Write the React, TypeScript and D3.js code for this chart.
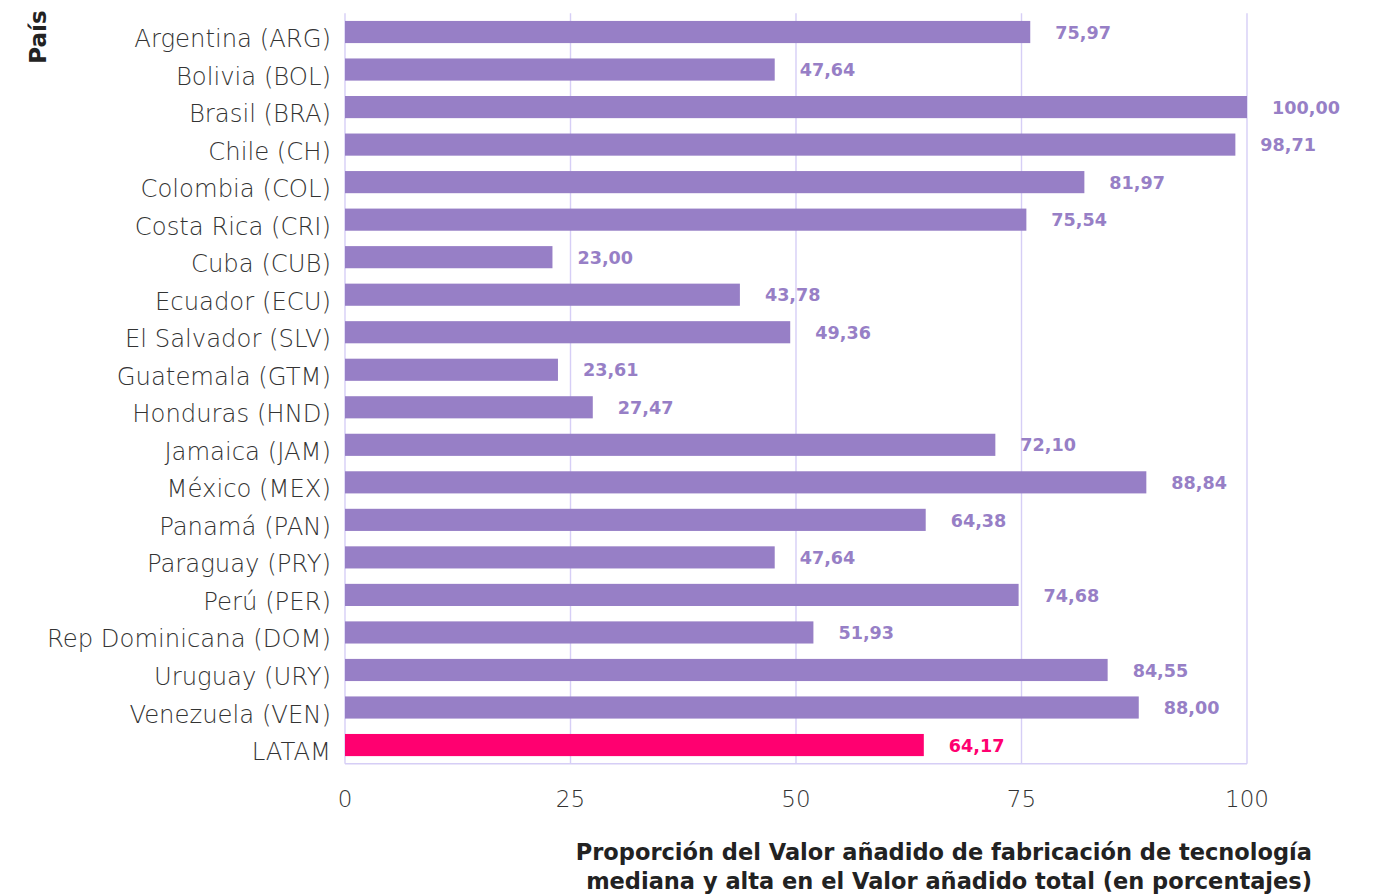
import React from "react";
import * as d3 from "d3";

const categories = [
  "Argentina (ARG)", "Bolivia (BOL)", "Brasil (BRA)", "Chile (CH)", "Colombia (COL)",
  "Costa Rica (CRI)", "Cuba (CUB)", "Ecuador (ECU)", "El Salvador (SLV)", "Guatemala (GTM)",
  "Honduras (HND)", "Jamaica (JAM)", "México (MEX)", "Panamá (PAN)", "Paraguay (PRY)",
  "Perú (PER)", "Rep Dominicana (DOM)", "Uruguay (URY)", "Venezuela (VEN)", "LATAM",
];
const values = [
  75.97, 47.64, 100.0, 98.71, 81.97, 75.54, 23.0, 43.78, 49.36, 23.61,
  27.47, 72.1, 88.84, 64.38, 47.64, 74.68, 51.93, 84.55, 88.0, 64.17,
];
const ticks = [0, 25, 50, 75, 100];
const highlight = "LATAM";

const W = 1378, H = 894;
const left = 345, right = 1247, top = 13.25, bottom = 763.8;
const FONT = "'DejaVu Sans', sans-serif";

export default function App() {
  const x = d3.scaleLinear().domain([0, 100]).range([left, right]);
  const y = d3.scaleBand().domain(categories).range([top, bottom]).paddingInner(0.41).paddingOuter(0.205);
  const fmt = (v: number) => v.toFixed(2).replace(".", ",");
  const grid = "#d6cef6";
  return (
    <svg width={W} height={H} style={{ position: "absolute", left: 0, top: 0, background: "#fff" }}>
      {ticks.map((t) => (
        <line key={t} x1={x(t)} x2={x(t)} y1={top} y2={bottom} stroke={grid} strokeWidth={1.4} />
      ))}
      <line x1={left} x2={right} y1={bottom} y2={bottom} stroke={grid} strokeWidth={1.4} />
      {categories.map((c, i) => {
        const col = c === highlight ? "#ff0070" : "#977fc6";
        const yy = y(c)!;
        return (
          <g key={c}>
            <rect x={x(0)} y={yy} width={x(values[i]) - x(0)} height={y.bandwidth()} fill={col} />
            <text x={x(values[i]) + 25} y={yy + y.bandwidth() / 2 + 0.5} dy="0.35em" fill={col}
              fontFamily={FONT} fontWeight={700} fontSize={17.6}>{fmt(values[i])}</text>
            <text x={331} y={yy + y.bandwidth() / 2 + 6.5} dy="0.35em" textAnchor="end" fill="#333"
              fontFamily={FONT} fontWeight={300} fontSize={24.3}>{c}</text>
          </g>
        );
      })}
      {ticks.map((t) => (
        <text key={t} x={x(t)} y={799} dy="0.35em" textAnchor="middle" fill="#333"
          fontFamily={FONT} fontWeight={300} fontSize={23}>{t}</text>
      ))}
      <text x={1312} y={852} dy="0.35em" textAnchor="end" fill="#222" fontFamily={FONT} fontWeight={700} fontSize={22.5}>
        Proporción del Valor añadido de fabricación de tecnología
      </text>
      <text x={1312} y={881} dy="0.35em" textAnchor="end" fill="#222" fontFamily={FONT} fontWeight={700} fontSize={22.5}>
        mediana y alta en el Valor añadido total (en porcentajes)
      </text>
      <text transform="translate(38,37) rotate(-90)" dy="0.35em" textAnchor="middle" fill="#222"
        fontFamily={FONT} fontWeight={700} fontSize={23}>País</text>
    </svg>
  );
}
